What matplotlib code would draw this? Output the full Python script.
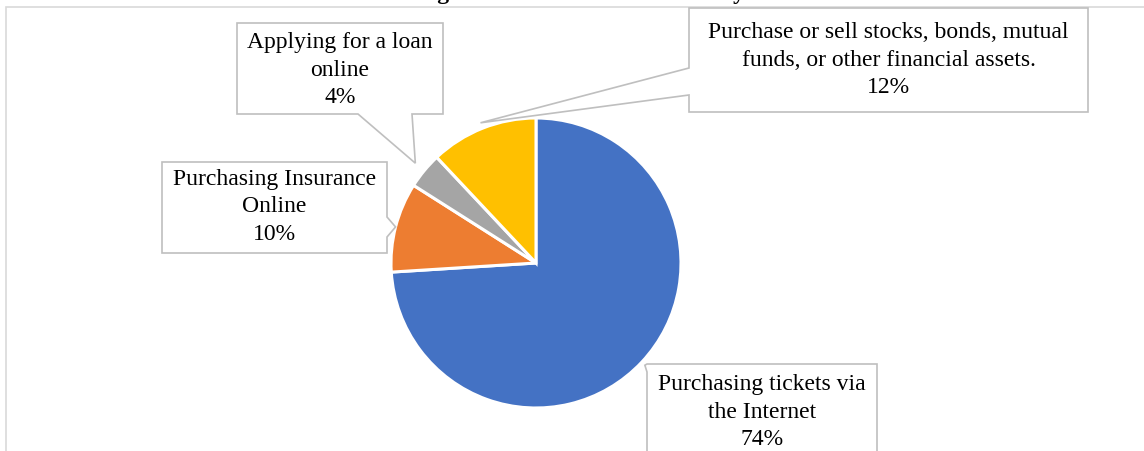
import matplotlib.pyplot as plt
import numpy as np
from matplotlib.patches import Polygon, Rectangle

labels = [
    "Purchasing tickets via\nthe Internet",
    "Purchasing Insurance\nOnline",
    "Applying for a loan\nonline",
    "Purchase or sell stocks, bonds, mutual\nfunds, or other financial assets.",
]
shares = [74, 10, 4, 12]
colors = ["#4472C4", "#ED7D31", "#A5A5A5", "#FFC000"]

# callout boxes in pixels (left, top, right, bottom), y measured from the top
boxes = [
    (647, 364, 877, 470),
    (162, 162, 387, 253),
    (237, 23, 443, 114),
    (689, 8, 1088, 112),
]
# which side of the box the pointer leaves from, and where along that side
pointer_side = ["left", "right", "bottom", "left"]
pointer_base = [(364, 372), (217, 237), (358, 412), (68, 95)]
tip_reach = [1.03, 1.0, 1.08, 1.04]
text_mid = [412, 207, 70, 60]

W, H = 1144, 451
cx, cy, r = 536, H - 263, 145

plt.rcParams["font.family"] = ["Liberation Serif", "DejaVu Serif"]

fig = plt.figure(figsize=(W / 100, H / 100), dpi=100)
ax = fig.add_axes([0, 0, 1, 1])

wedges, _ = ax.pie(
    shares,
    colors=colors,
    startangle=90,
    counterclock=False,
    center=(cx, cy),
    radius=r,
    wedgeprops={"edgecolor": "white", "linewidth": 2.2},
    frame=True,
)
ax.set_xlim(0, W)
ax.set_ylim(0, H)
ax.axis("off")

# chart area frame, cut off by the screenshot at right and bottom
ax.add_patch(
    Rectangle((6, -20), W + 20, H - 7 + 20,
              facecolor="none", edgecolor="#D9D9D9", linewidth=1.2)
)

# title sits above the screenshot, only its descenders show
ax.text(
    W / 2, H + 0.5,
    "Usage of Online Financial Activity",
    ha="center", va="baseline",
    fontsize=17, fontweight="bold"
)

for i, w in enumerate(wedges):
    ang = np.deg2rad((w.theta1 + w.theta2) / 2)
    tx = cx + r * tip_reach[i] * np.cos(ang)
    ty = cy + r * tip_reach[i] * np.sin(ang)

    left, top, right, bottom = boxes[i]
    top, bottom = H - top, H - bottom
    a, b = pointer_base[i]

    if pointer_side[i] == "left":
        pts = [(left, top), (right, top), (right, bottom), (left, bottom),
               (left, H - b), (tx, ty), (left, H - a)]
    elif pointer_side[i] == "right":
        pts = [(left, top), (right, top), (right, H - a), (tx, ty),
               (right, H - b), (right, bottom), (left, bottom)]
    else:
        pts = [(left, top), (right, top), (right, bottom), (b, bottom),
               (tx, ty), (a, bottom), (left, bottom)]

    ax.add_patch(
        Polygon(pts, closed=True, facecolor="white",
                edgecolor="#BFBFBF", linewidth=1.2, clip_on=False)
    )

    ax.text(
        (left + right) / 2, H - text_mid[i],
        labels[i] + "\n" + str(shares[i]) + "%",
        ha="center", va="center",
        fontsize=17, linespacing=1.4
    )

fig.savefig("out.png", dpi=100)
plt.close()
